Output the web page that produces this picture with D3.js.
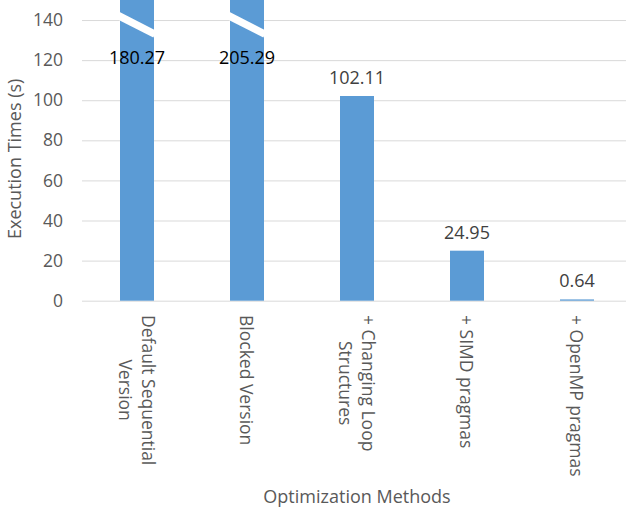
<!DOCTYPE html>
<html>
<head>
<meta charset="utf-8">
<script src="https://cdn.jsdelivr.net/npm/d3@7"></script>
<style>
  html, body { margin: 0; padding: 0; background: #fff; }
  svg { display: block; font-family: "Open Sans", sans-serif; }
</style>
</head>
<body>
<svg id="chart" width="626" height="508"></svg>
<script>
// Execution time of each optimization step (seconds)
const categories = [
  "Default Sequential\nVersion",
  "Blocked Version",
  "+ Changing Loop\nStructures",
  "+ SIMD pragmas",
  "+ OpenMP pragmas"
];
const times = [180.27, 205.29, 102.11, 24.95, 0.64];
const yTicks = [0, 20, 40, 60, 80, 100, 120, 140];
const yMax = 150;          // visible top of the value axis
const breakValue = 137.5;  // where off-scale bars are cut

const svg = d3.select("#chart");
const W = 626;
const plot = { left: 82, right: 632, top: 0, bottom: 300.7 };

const x = d3.scaleBand()
  .domain(categories)
  .range([plot.left, plot.right])
  .paddingInner(0.691)
  .paddingOuter(0.3455);

const y = d3.scaleLinear()
  .domain([0, yMax])
  .range([plot.bottom, plot.top]);

// gridlines + tick labels
const yAxis = svg.append("g")
  .attr("transform", `translate(${plot.left},0)`)
  .call(d3.axisLeft(y).tickValues(yTicks).tickSize(-(W - plot.left)).tickPadding(19));
yAxis.select(".domain").remove();
yAxis.selectAll(".tick line").attr("stroke", "#d9d9d9").attr("stroke-width", 1);
yAxis.selectAll(".tick text")
  .attr("fill", "#595959")
  .style("font-family", "'Open Sans', sans-serif")
  .style("font-size", "17.5px");

// bars
const data = categories.map((c, i) => ({ cat: c, value: times[i] }));
svg.append("g").selectAll("rect")
  .data(data)
  .join("rect")
  .attr("x", d => x(d.cat))
  .attr("y", d => y(Math.min(d.value, yMax + 10)))
  .attr("width", x.bandwidth())
  .attr("height", d => y(0) - y(Math.min(d.value, yMax + 10)))
  .attr("fill", "#5b9bd5");

// break marks on bars that run past the top of the axis
const slope = 0.51;
const broken = data.filter(d => d.value > yMax);
svg.append("g").selectAll("line")
  .data(broken)
  .join("line")
  .attr("x1", d => x(d.cat) - 3)
  .attr("x2", d => x(d.cat) + x.bandwidth() + 1)
  .attr("y1", d => y(breakValue) - slope * (x.bandwidth() / 2 + 3))
  .attr("y2", d => y(breakValue) + slope * (x.bandwidth() / 2 + 1))
  .attr("stroke", "#fff")
  .attr("stroke-width", 7.5);

// value labels
svg.append("g").selectAll("text")
  .data(data)
  .join("text")
  .attr("x", d => x(d.cat) + x.bandwidth() / 2)
  .attr("y", d => d.value > yMax ? y(breakValue) + 39 : y(d.value) - 12)
  .attr("text-anchor", "middle")
  .attr("fill", d => d.value > yMax ? "#000" : "#404040")
  .style("font-size", "18px")
  .text(d => d.value.toFixed(2));

// rotated category labels
const lineGap = 23;
const catG = svg.append("g").selectAll("g")
  .data(categories)
  .join("g")
  .attr("transform", c => `translate(${x(c) + x.bandwidth() / 2},315) rotate(90)`);
catG.each(function (c) {
  const g = d3.select(this);
  const lines = c.split("\n");
  const n = lines.length;
  const texts = lines.map((l, i) =>
    g.append("text")
      .attr("y", (i - (n - 1) / 2) * lineGap)
      .attr("dominant-baseline", "central")
      .attr("text-anchor", "middle")
      .attr("fill", "#595959")
      .style("font-size", "17.5px")
      .text(l));
  const maxLen = d3.max(texts, t => t.node().getComputedTextLength());
  texts.forEach(t => t.attr("x", maxLen / 2));
});

// axis titles
svg.append("text")
  .attr("transform", `translate(21,${(plot.bottom + 17) / 2}) rotate(-90)`)
  .attr("text-anchor", "middle")
  .attr("fill", "#595959")
  .style("font-size", "18px")
  .text("Execution Times (s)");

svg.append("text")
  .attr("x", (plot.left + plot.right) / 2)
  .attr("y", 503)
  .attr("text-anchor", "middle")
  .attr("fill", "#595959")
  .style("font-size", "18px")
  .text("Optimization Methods");
</script>
</body>
</html>
